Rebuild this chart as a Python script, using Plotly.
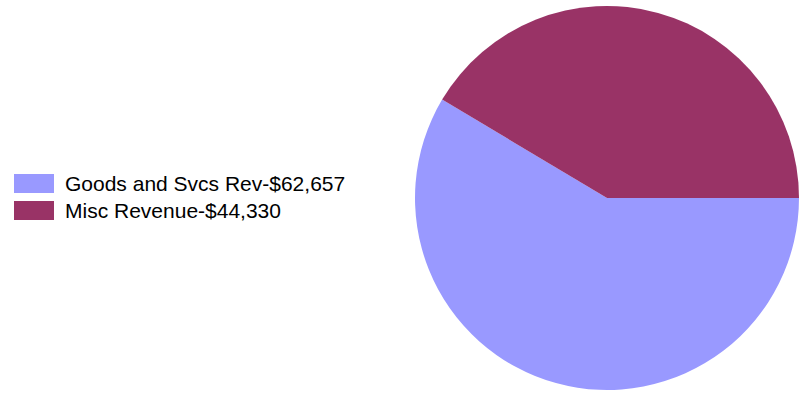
import plotly.graph_objects as go

categories = ["Goods and Svcs Rev", "Misc Revenue"]
values = [62657, 44330]
colors = ["#9999FF", "#993366"]

W, H = 799, 395

fig = go.Figure()
fig.add_trace(go.Pie(
    labels=categories,
    values=values,
    marker=dict(colors=colors, line=dict(width=0)),
    sort=False,
    direction="clockwise",
    rotation=90,
    textinfo="none",
    hoverinfo="label+value",
    showlegend=False,
    domain=dict(x=[415 / W, 1.0], y=[3 / H, 391 / H]),
))

# custom legend (wide swatches)
shapes = []
annotations = []
row_centers = [183.5, 210.5]
for i, (cat, val, col) in enumerate(zip(categories, values, colors)):
    yc = row_centers[i]
    shapes.append(dict(
        type="rect", xref="paper", yref="paper",
        x0=14 / W, x1=54 / W,
        y0=1 - (yc + 9.5) / H, y1=1 - (yc - 9.5) / H,
        fillcolor=col, line=dict(width=0),
    ))
    annotations.append(dict(
        xref="paper", yref="paper",
        x=63 / W, y=1 - yc / H,
        xanchor="left", yanchor="middle",
        text=f"{cat}-${val:,}",
        showarrow=False,
        font=dict(family="Arial, Liberation Sans, sans-serif", size=21, color="#000000"),
    ))

fig.update_layout(
    width=W, height=H,
    margin=dict(l=0, r=0, t=0, b=0),
    paper_bgcolor="white",
    plot_bgcolor="white",
    shapes=shapes,
    annotations=annotations,
)

fig.write_html(
    "out.html",
    config={"displayModeBar": False},
    post_script="document.body.style.margin='0px';",
)
